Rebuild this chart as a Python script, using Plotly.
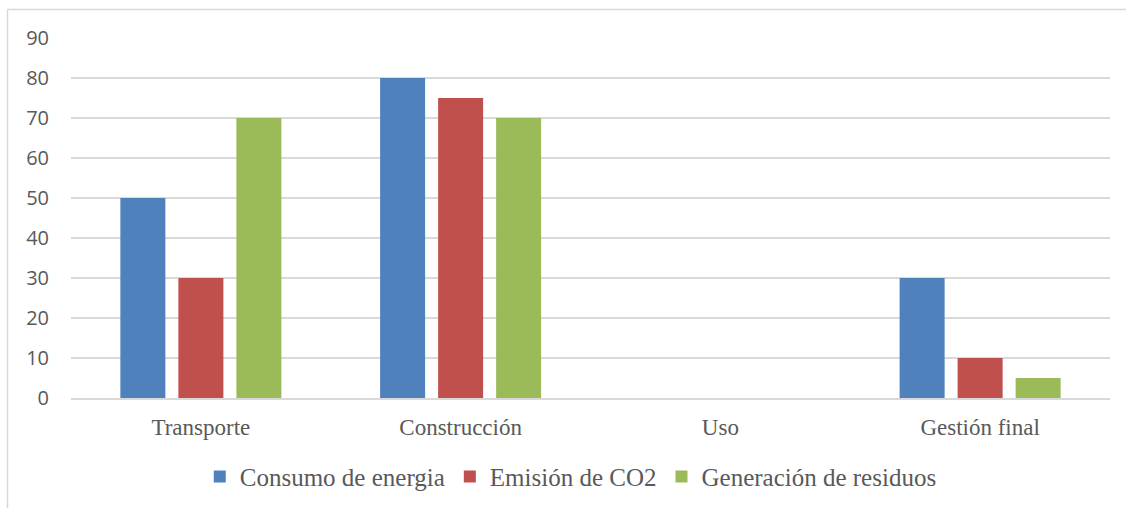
import plotly.graph_objects as go

categories = ["Transporte", "Construcción", "Uso", "Gestión final"]
consumo = [50, 80, 0, 30]
emision = [30, 75, 0, 10]
residuos = [70, 70, 0, 5]
y_ticks = [0, 10, 20, 30, 40, 50, 60, 70, 80, 90]

series = [
    ("Consumo de energia", consumo, "#4F81BD"),
    ("Emisión de CO2", emision, "#C0504D"),
    ("Generación de residuos", residuos, "#9BBB59"),
]

fig = go.Figure()
for name, vals, color in series:
    fig.add_trace(go.Bar(x=categories, y=vals, name=name, marker_color=color,
                         marker_line_width=0))

serif = "Liberation Serif, Times New Roman, serif"
fig.update_layout(
    width=1126, height=508,
    margin=dict(l=71, r=16, t=38, b=110, autoexpand=False),
    paper_bgcolor="white", plot_bgcolor="white",
    barmode="group", bargap=0.33, bargroupgap=0.224,
    showlegend=True,
    legend=dict(orientation="h", x=0.481, xanchor="center", y=-0.155, yanchor="top",
                font=dict(family=serif, size=25, color="#595959"),
                itemwidth=30, tracegroupgap=0),
    xaxis=dict(showgrid=False, showline=True, linecolor="#D9D9D9", linewidth=2,
               ticks="", tickfont=dict(family=serif, size=23, color="#595959"),
               ticklabelstandoff=7, automargin=False),
    yaxis=dict(range=[0, 90], tickvals=y_ticks, showgrid=True, gridcolor="#D9D9D9",
               gridwidth=1.5, zeroline=False, showline=False, ticks="",
               tickfont=dict(family="Open Sans, sans-serif", size=20, color="#595959"),
               ticklabelstandoff=21, automargin=False),
)
fig.add_shape(type="line", xref="paper", yref="paper",
              x0=(7.5 - 71) / 1039, x1=(1130 - 71) / 1039,
              y0=(398 - 9.5) / 360, y1=(398 - 9.5) / 360,
              line=dict(color="#D9D9D9", width=1.5))
fig.add_shape(type="line", xref="paper", yref="paper",
              x0=(7.5 - 71) / 1039, x1=(7.5 - 71) / 1039,
              y0=(398 - 9.5) / 360, y1=(398 - 520) / 360,
              line=dict(color="#D9D9D9", width=1.5))

fig.write_html("out.html", config={"displayModeBar": False},
               post_script="document.body.style.margin='0px';document.body.style.overflow='hidden';")
